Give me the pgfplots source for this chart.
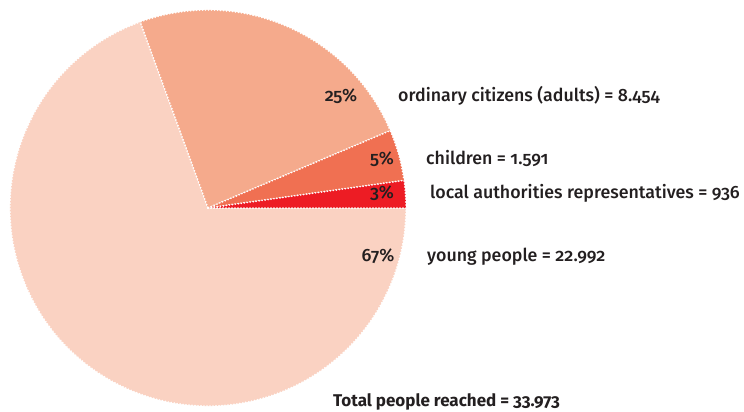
\documentclass[border=0pt]{standalone}
\usepackage{pgfplots}
\pgfplotsset{compat=1.18}
\usepackage{fontspec}
\setmainfont{Fira Sans}[Numbers=OldStyle, UprightFont=* Medium, BoldFont=* Bold]
\definecolor{cyoung}{HTML}{FAD2C2}
\definecolor{cadult}{HTML}{F5AA8C}
\definecolor{cchild}{HTML}{F07052}
\definecolor{clocal}{HTML}{ED1C24}
\definecolor{ctext}{HTML}{231F20}
% counts: local 936, children 1591, adults 8454, young 22992 (total 33973)
% slice boundaries (degrees) as drawn in the reference
\begin{document}
\begin{tikzpicture}
\begin{axis}[
  name=ax,
  hide axis, scale only axis, x=1pt, y=1pt,
  xmin=-208, xmax=536, ymin=-204, ymax=208,
  clip=false,
]
\tikzset{slice/.style={draw=white, line width=1.9pt, line cap=round, dash pattern=on 0pt off 3pt, line join=round}}
% young people 110 -> 360
\addplot[fill=cyoung, slice, data cs=polar] coordinates {(0,0) (110,198)} arc[start angle=110, end angle=360, radius=198pt] -- cycle;
% adults 23 -> 110
\addplot[fill=cadult, slice, data cs=polar] coordinates {(0,0) (23,198)} arc[start angle=23, end angle=110, radius=198pt] -- cycle;
% children 8 -> 23
\addplot[fill=cchild, slice, data cs=polar] coordinates {(0,0) (8,198)} arc[start angle=8, end angle=23, radius=198pt] -- cycle;
% local authorities 0 -> 8
\addplot[fill=clocal, slice, data cs=polar] coordinates {(0,0) (0,198)} arc[start angle=0, end angle=8, radius=198pt] -- cycle;

\tikzset{lab/.style={text=ctext, font=\fontsize{17.8}{20}\selectfont, inner sep=0pt}}
\node[lab, anchor=base] at (axis cs:133,106.5) {25\%};
\node[lab, anchor=base west] at (axis cs:190,106.5) {ordinary citizens (adults) = 8.454};
\node[lab, anchor=base] at (axis cs:174,43) {5\%};
\node[lab, anchor=base west] at (axis cs:218,43) {children = 1.591};
\node[lab, anchor=base] at (axis cs:174,9.7) {3\%};
\node[lab, anchor=base west] at (axis cs:222,9.7) {local authorities representatives = 936};
\node[lab, anchor=base] at (axis cs:170,-53.5) {67\%};
\node[lab, anchor=base west] at (axis cs:219,-53.5) {young people = 22.992};
\node[lab, anchor=base west, font=\bfseries\fontsize{17}{20}\selectfont] at (axis cs:125,-198.5) {Total people reached = 33.973};
\end{axis}
\pgfresetboundingbox
\path (ax.south west) rectangle (ax.north east);
\end{tikzpicture}
\end{document}
